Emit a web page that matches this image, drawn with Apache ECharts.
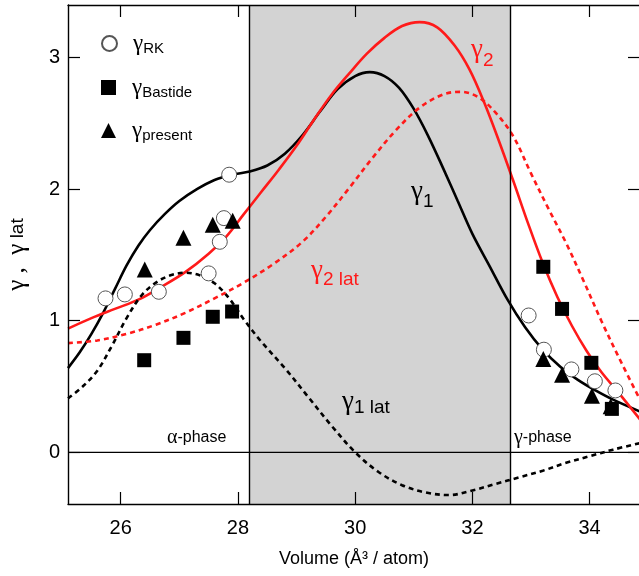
<!DOCTYPE html>
<html>
<head>
<meta charset="utf-8">
<script src="https://cdn.jsdelivr.net/npm/echarts@6/dist/echarts.min.js"></script>
<style>
  html, body { margin: 0; padding: 0; background: #fff; }
  #chart { width: 639px; height: 576px; }
</style>
</head>
<body>
<div id="chart"></div>
<script>
// axis ticks
const xTicks = [26, 28, 30, 32, 34];
const yTicks = [0, 1, 2, 3];
const phaseBounds = [28.19, 32.65]; // alpha / gamma phase limits (shaded between)
const zeroLine = [[25.1, 0], [34.86, 0]];

// curves [volume, gamma]
const gamma1 = [[25.1,0.64],[25.3,0.76],[25.5,0.9],[25.7,1.06],[25.9,1.24],[26.1,1.42],[26.3,1.57],
  [26.5,1.69],[26.75,1.81],[27.0,1.91],[27.3,2.0],[27.6,2.07],[27.9,2.11],[28.2,2.135],[28.5,2.18],
  [28.8,2.27],[29.1,2.41],[29.4,2.59],[29.7,2.76],[30.0,2.86],[30.25,2.89],[30.5,2.86],[30.75,2.77],
  [31.0,2.61],[31.25,2.4],[31.5,2.16],[31.75,1.91],[32.0,1.66],[32.3,1.41],[32.6,1.16],[32.9,0.95],
  [33.2,0.78],[33.5,0.65],[33.8,0.55],[34.1,0.47],[34.4,0.4],[34.86,0.31]];
const gamma2 = [[25.1,0.94],[25.5,1.02],[25.9,1.09],[26.3,1.16],[26.7,1.26],[27.1,1.37],[27.5,1.51],
  [27.8,1.64],[28.1,1.81],[28.4,1.98],[28.7,2.15],[29.0,2.33],[29.3,2.53],[29.6,2.72],[29.9,2.88],
  [30.2,3.03],[30.5,3.15],[30.8,3.24],[31.1,3.27],[31.4,3.23],[31.7,3.09],[31.95,2.91],[32.2,2.66],
  [32.45,2.37],[32.7,2.06],[32.95,1.74],[33.2,1.44],[33.45,1.18],[33.7,0.96],[33.95,0.77],[34.2,0.61],
  [34.5,0.45],[34.86,0.25]];
const gamma1lat = [[25.1,0.41],[25.35,0.5],[25.6,0.62],[25.85,0.81],[26.1,1.02],[26.35,1.19],[26.6,1.29],
  [26.85,1.345],[27.1,1.365],[27.35,1.345],[27.6,1.285],[27.85,1.17],[28.1,1.01],[28.4,0.84],[28.8,0.64],
  [29.2,0.42],[29.6,0.2],[30.0,0.0],[30.4,-0.15],[30.8,-0.25],[31.2,-0.305],[31.6,-0.325],[32.0,-0.29],
  [32.4,-0.24],[32.8,-0.19],[33.2,-0.14],[33.6,-0.08],[34.0,-0.03],[34.4,0.02],[34.86,0.07]];
const gamma2lat = [[25.1,0.83],[25.6,0.85],[26.1,0.9],[26.6,0.97],[27.1,1.06],[27.6,1.17],[28.1,1.29],
  [28.6,1.43],[29.1,1.6],[29.5,1.79],[29.9,2.01],[30.3,2.24],[30.7,2.45],[31.1,2.62],[31.5,2.72],
  [31.8,2.74],[32.1,2.7],[32.4,2.58],[32.7,2.4],[33.0,2.12],[33.3,1.85],[33.6,1.59],[33.9,1.3],
  [34.2,1.0],[34.5,0.72],[34.86,0.4]];

// measured points
const gammaRK = [[25.74,1.17],[26.07,1.2],[26.65,1.22],[27.5,1.36],[27.69,1.6],[27.76,1.78],[27.85,2.11],
  [32.96,1.04],[33.22,0.78],[33.69,0.63],[34.09,0.54],[34.44,0.47]];
const gammaBastide = [[26.4,0.7],[27.07,0.87],[27.57,1.03],[27.9,1.07],
  [33.21,1.41],[33.53,1.09],[34.03,0.68],[34.38,0.33]];
const gammaPresent = [[26.41,1.39],[27.07,1.63],[27.57,1.73],[27.91,1.76],
  [33.21,0.71],[33.53,0.59],[34.04,0.43],[34.36,0.35]];

const RED = '#ff1a1a';
const SERIF = 'Liberation Serif';
const SANS = 'Liberation Sans';

const chart = echarts.init(document.getElementById('chart'));

function legendFor(name, top) {
  return {
    data: [name],
    left: 96,
    top: top,
    itemWidth: 15,
    itemHeight: 15,
    selectedMode: false,
    formatter: n => '{g|γ}{s|' + n + '}',
    textStyle: {
      rich: {
        g: { fontSize: 23, fontFamily: SERIF, color: '#000', padding: [0, 0, 0, 11], lineHeight: 26 },
        s: { fontSize: 15, fontFamily: SANS, color: '#000', verticalAlign: 'bottom', lineHeight: 15 }
      }
    }
  };
}

// gamma label, subscript pushed to the bottom of a line of height lh
function label(text, left, top, color, lh) {
  return {
    type: 'text', left: left, top: top, z: 20,
    style: {
      text: text,
      fill: color,
      rich: {
        g: { fontSize: 27, fontFamily: SERIF, fill: color, lineHeight: 27, verticalAlign: 'top' },
        s: { fontSize: 19, fontFamily: SANS, fill: color, lineHeight: lh, verticalAlign: 'bottom' }
      }
    }
  };
}

const tickCommon = { inside: true, length: 12, lineStyle: { color: '#000', width: 1.2 } };
const lineCommon = { show: true, onZero: false, lineStyle: { color: '#000', width: 1.4 } };

const option = {
  animation: false,
  grid: { left: 68, right: -1, top: 5, bottom: 72, outerBoundsMode: 'none', containLabel: false },
  xAxis: [
    {
      type: 'value', min: 25.1, max: 34.86, z: 10,
      axisLine: lineCommon,
      axisTick: Object.assign({ customValues: xTicks }, tickCommon),
      axisLabel: { customValues: xTicks, fontSize: 20, fontFamily: SANS, color: '#000', margin: 14 },
      splitLine: { show: false },
      name: 'Volume (Å³ / atom)',
      nameLocation: 'middle',
      nameGap: 46,
      nameTextStyle: { fontSize: 18, fontFamily: SANS, color: '#000' }
    },
    {
      type: 'value', position: 'top', min: 25.1, max: 34.86, z: 10,
      axisLine: lineCommon,
      axisTick: Object.assign({ customValues: xTicks }, tickCommon),
      axisLabel: { show: false },
      splitLine: { show: false }
    }
  ],
  yAxis: [
    {
      type: 'value', min: -0.393, max: 3.4, z: 10,
      axisLine: lineCommon,
      axisTick: Object.assign({ customValues: yTicks }, tickCommon),
      axisLabel: { customValues: yTicks, fontSize: 20, fontFamily: SANS, color: '#000', margin: 8 },
      splitLine: { show: false },
      name: '{g|γ ,  γ}{s| lat}',
      nameLocation: 'middle',
      nameGap: 38,
      nameTextStyle: {
        rich: {
          g: { fontSize: 25, fontFamily: SERIF, color: '#000' },
          s: { fontSize: 19, fontFamily: SANS, color: '#000' }
        }
      }
    },
    {
      type: 'value', position: 'right', min: -0.393, max: 3.4, z: 10,
      axisLine: lineCommon,
      axisTick: Object.assign({ customValues: yTicks }, tickCommon),
      axisLabel: { show: false },
      splitLine: { show: false }
    }
  ],
  legend: [
    legendFor('RK', 27),
    legendFor('Bastide', 71),
    legendFor('present', 114)
  ],
  graphic: [
    label('{g|γ}{s|2}', 471, 36, RED, 34),
    label('{g|γ}{s|1}', 411, 178, '#000', 33),
    label('{g|γ}{s|2 lat}', 311, 257, RED, 32),
    label('{g|γ}{s|1 lat}', 342, 388, '#000', 29),
    {
      type: 'text', left: 167, top: 428, z: 20,
      style: {
        text: '{a|α}{p|-phase}',
        rich: {
          a: { fontSize: 20, fontFamily: SERIF, fill: '#000' },
          p: { fontSize: 16, fontFamily: SANS, fill: '#000' }
        }
      }
    },
    {
      type: 'text', left: 514, top: 428, z: 20,
      style: {
        text: '{a|γ}{p|-phase}',
        rich: {
          a: { fontSize: 20, fontFamily: SERIF, fill: '#000' },
          p: { fontSize: 16, fontFamily: SANS, fill: '#000' }
        }
      }
    }
  ],
  series: [
    {
      name: 'zero',
      type: 'line',
      z: 1,
      data: zeroLine,
      symbol: 'none',
      silent: true,
      lineStyle: { color: '#000', width: 1.2 },
      markArea: {
        silent: true,
        itemStyle: { color: '#d3d3d3' },
        data: [[{ xAxis: phaseBounds[0] }, { xAxis: phaseBounds[1] }]]
      },
      markLine: {
        silent: true,
        symbol: 'none',
        label: { show: false },
        lineStyle: { color: '#000', width: 1.4, type: 'solid' },
        data: phaseBounds.map(v => ({ xAxis: v }))
      }
    },
    {
      name: 'g1', type: 'line', z: 3, data: gamma1, smooth: 0.35, symbol: 'none',
      lineStyle: { color: '#000', width: 2.6 }
    },
    {
      name: 'g2', type: 'line', z: 3, data: gamma2, smooth: 0.35, symbol: 'none',
      lineStyle: { color: RED, width: 2.6 }
    },
    {
      name: 'g1lat', type: 'line', z: 3, data: gamma1lat, smooth: 0.35, symbol: 'none',
      lineStyle: { color: '#000', width: 2.6, type: [5, 4] }
    },
    {
      name: 'g2lat', type: 'line', z: 3, data: gamma2lat, smooth: 0.35, symbol: 'none',
      lineStyle: { color: RED, width: 2.6, type: [5, 4] }
    },
    {
      name: 'RK', type: 'scatter', z: 5, data: gammaRK, symbol: 'circle', symbolSize: 15,
      itemStyle: { color: '#fff', borderColor: '#555', borderWidth: 1, opacity: 1 }
    },
    {
      name: 'Bastide', type: 'scatter', z: 5, data: gammaBastide, symbol: 'rect', symbolSize: 14,
      itemStyle: { color: '#000', opacity: 1 }
    },
    {
      name: 'present', type: 'scatter', z: 5, data: gammaPresent, symbol: 'triangle', symbolSize: 16,
      itemStyle: { color: '#000', opacity: 1 }
    }
  ]
};

chart.setOption(option);
</script>
</body>
</html>
